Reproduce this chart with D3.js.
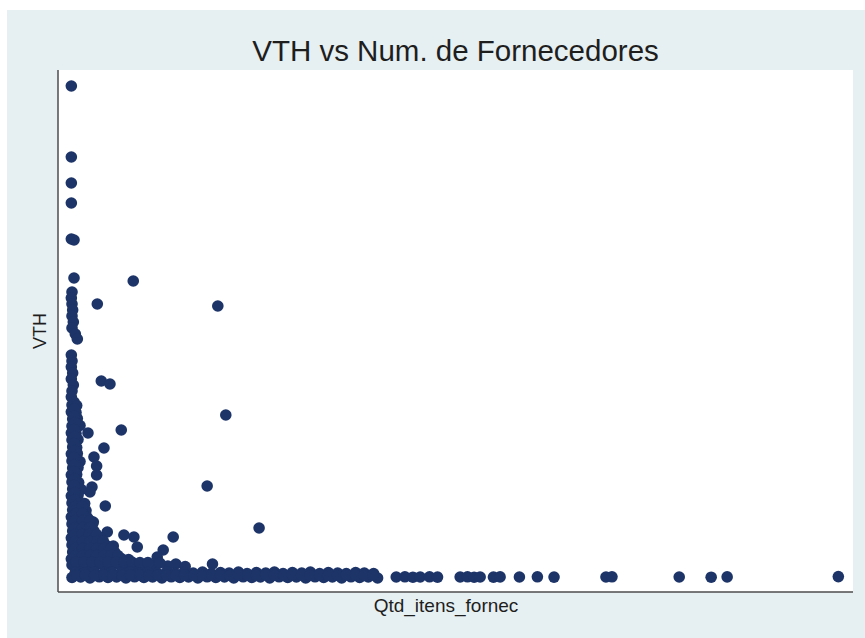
<!DOCTYPE html>
<html>
<head>
<meta charset="utf-8">
<script src="https://cdn.jsdelivr.net/npm/d3@7"></script>
<style>
  body { margin: 0; background: #ffffff; }
  text { font-family: "Liberation Sans", Arial, sans-serif; }
</style>
</head>
<body>
<script>
// VTH vs Qtd_itens_fornec
var titulo = "VTH vs Num. de Fornecedores";
var rotuloX = "Qtd_itens_fornec";
var rotuloY = "VTH";

var xDominio = [0, 1155];
var yDominio = [0, 4930];

// tall column at the left edge
var colunaTopo = [
  [2,4920],[2,4210],[2,3950],[2,3750],[2,3390],[6,3380],[6,3000],
  [3,2860],[2,2800],[3,2740],[4,2680],[3,2620],[5,2560],[3,2500],[8,2440],[11,2390],
  [2,2230],[3,2170],[2,2110],[4,2050],[2,1990],[5,1930],[3,1870],[2,1810],[6,1760]
];

// loose points away from the column
var dispersos = [
  [41,2740],[95,2970],[222,2720],[47,1970],[60,1940],[234,1630],[27,1450],[77,1480],
  [51,1300],[36,1210],[40,1120],[40,1030],[33,910],[30,860],[206,920],[53,720],
  [284,500],[35,560],[56,460],[81,430],[96,410],[101,310],[155,410],[140,280],
  [131,210],[159,140],[65,320],[214,140]
];

// dense core near the origin
var nucleo = [
  [3,1730],[10,1725],[2,1660],[9,1655],[4,1590],[11,1595],[3,1520],[10,1515],[15,1525],
  [2,1450],[9,1445],[3,1380],[12,1385],[4,1310],[10,1305],[2,1240],[11,1245],
  [3,1170],[9,1175],[15,1165],[4,1100],[12,1105],[2,1030],[10,1035],[3,960],[13,955],
  [4,890],[11,895],[17,885],[2,820],[12,825],
  [3,750],[13,755],[22,745],[4,680],[14,685],[24,675],[2,610],[13,615],[26,605],
  [3,540],[14,545],[25,535],[34,540],[4,470],[13,475],[24,465],[36,470],
  [2,400],[12,405],[23,395],[34,400],[45,405],
  [3,330],[14,335],[25,325],[36,330],[46,335],[55,325],
  [4,260],[13,265],[24,255],[35,260],[45,265],[56,255],[67,260],
  [2,190],[13,195],[24,185],[35,190],[46,195],[56,185],[67,190],[77,195],[88,185],
  [3,130],[15,125],[27,135],[39,130],[51,125],[63,135],[75,130],[87,125],[99,135],
  [111,130],[123,125],[147,120],[173,115]
];

// extra records packed between the core rows
var nucleoMeio = [
  [7,1690],[6,1620],[7,1555],[6,1485],[7,1415],[6,1345],[7,1275],[6,1205],[7,1135],
  [6,1065],[7,995],[6,925],[7,855],[7,785],[8,715],[18,715],[9,645],[19,645],
  [8,575],[19,575],[30,575],[8,505],[19,505],[30,505],[7,435],[18,435],[29,435],[40,435],
  [8,365],[19,365],[30,365],[41,365],[50,370],[8,295],[19,295],[30,295],[40,295],[51,295],
  [61,290],[8,225],[19,225],[30,225],[40,225],[51,225],[62,225],[72,225],
  [9,160],[21,160],[33,160],[45,160],[57,160],[69,160],[81,160],[93,160],[105,155],
  [117,155],[135,150]
];

// flat band along the bottom
var faixaBase = [
  [8,55],[22,50],[36,60],[50,45],[63,55],[77,50],[90,60],[104,45],[117,55],[131,50],
  [145,60],[158,45],[171,55],[185,50],[199,60],[212,45],[226,55],[239,50],[253,60],
  [266,45],[280,55],[294,50],[307,60],[320,45],[334,55],[348,50],[361,60],[375,45],
  [388,55],[402,50],[415,45],[429,55],[442,50],[456,45],
  [3,5],[16,10],[30,0],[44,12],[57,5],[70,10],[84,0],[97,12],[111,5],[124,10],
  [138,0],[152,12],[165,5],[178,10],[192,0],[206,12],[219,5],[232,10],[246,0],
  [260,12],[273,5],[286,10],[300,0],[314,12],[327,5],[340,10],[354,0],[368,12],
  [381,5],[394,10],[408,0],[422,12],[435,5],[448,10],[462,0],
  [10,28],[23,30],[37,25],[51,30],[64,28],[78,25],[91,30],[105,28],[118,25],[132,30],
  [145,28],[159,25],[172,30],[186,28],[199,25],[213,30],[226,28],[240,25],[253,30],
  [267,28],[280,25],[294,30],[307,28],[321,25],[334,30],[348,28],[361,25],[375,30],
  [388,28],[402,25],[415,30],[429,28],[442,25],[455,30]
];

// sparse tail to the right
var caudaDireita = [
  [490,10],[503,12],[515,8],[526,10],[540,12],[552,9],[586,10],[597,12],[607,8],
  [616,10],[636,9],[646,11],[675,10],[702,12],[727,9],[805,10],[814,12],[915,10],
  [963,8],[987,11],[1154,14]
];

var pontos = colunaTopo.concat(dispersos, nucleo, nucleoMeio, faixaBase, caudaDireita);

var W = 865, H = 638;
var caixa = { x0: 58, y0: 70, x1: 853, y1: 592 };

var svg = d3.select("body")
            .append("svg")
            .attr("width", W)
            .attr("height", H);

// graph region
svg.append("rect")
   .attr("x", 7)
   .attr("y", 10)
   .attr("width", W - 7)
   .attr("height", H - 10)
   .style("fill", "#e6eff1");

// plot region
svg.append("rect")
   .attr("x", caixa.x0)
   .attr("y", caixa.y0)
   .attr("width", caixa.x1 - caixa.x0)
   .attr("height", caixa.y1 - caixa.y0)
   .style("fill", "#ffffff");

var x = d3.scaleLinear()
          .domain(xDominio)
          .range([caixa.x0 + 12, caixa.x1 - 14]);
var y = d3.scaleLinear()
          .domain(yDominio)
          .range([caixa.y1 - 14, caixa.y0 + 15]);

svg.selectAll("circle")
   .data(pontos)
   .enter()
   .append("circle")
   .attr("cx", function(d) { return x(d[0]); })
   .attr("cy", function(d) { return y(d[1]); })
   .attr("r", 5.8)
   .style("fill", "#1d3468");

// axis lines, no ticks or labels
svg.append("line")
   .attr("x1", caixa.x0).attr("y1", caixa.y0)
   .attr("x2", caixa.x0).attr("y2", caixa.y1)
   .attr("stroke", "#4d4d4d")
   .attr("stroke-width", 1.5);
svg.append("line")
   .attr("x1", caixa.x0).attr("y1", caixa.y1)
   .attr("x2", caixa.x1).attr("y2", caixa.y1)
   .attr("stroke", "#4d4d4d")
   .attr("stroke-width", 1.5);

svg.append("text")
   .attr("x", (caixa.x0 + caixa.x1) / 2)
   .attr("y", 61)
   .attr("text-anchor", "middle")
   .style("font-size", "29.5px")
   .style("fill", "#1e1e1e")
   .text(titulo);

svg.append("text")
   .attr("x", 446)
   .attr("y", 612)
   .attr("text-anchor", "middle")
   .style("font-size", "19px")
   .style("fill", "#1e1e1e")
   .text(rotuloX);

svg.append("text")
   .attr("transform", "translate(46," + ((caixa.y0 + caixa.y1) / 2) + ") rotate(-90)")
   .attr("text-anchor", "middle")
   .style("font-size", "18px")
   .style("fill", "#1e1e1e")
   .text(rotuloY);
</script>
</body>
</html>
